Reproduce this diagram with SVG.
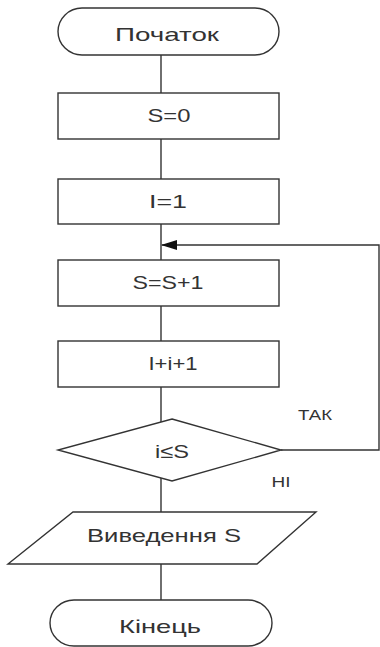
<svg xmlns="http://www.w3.org/2000/svg" width="380" height="647" viewBox="0 0 380 647">
  <style>
    .shape { fill: #ffffff; stroke: #333333; stroke-width: 1.4; }
    .edge { fill: none; stroke: #333333; stroke-width: 1.4; }
    .label { font-family: "Liberation Sans", Arial, sans-serif; font-size: 19px; fill: #333333; text-anchor: middle; }
    .small { font-family: "Liberation Sans", Arial, sans-serif; font-size: 14px; fill: #333333; text-anchor: middle; }
  </style>
  <defs>
    <marker id="arrow" markerWidth="16" markerHeight="10" refX="15" refY="5" orient="auto" markerUnits="userSpaceOnUse">
      <path d="M0,0 L16,5 L0,10 z" fill="#111111"/>
    </marker>
  </defs>
  <rect width="380" height="647" fill="#ffffff"/>

  <g id="connectors">
    <line class="edge" x1="161" y1="55" x2="161" y2="93"/>
    <line class="edge" x1="161" y1="139" x2="161" y2="179"/>
    <line class="edge" x1="161" y1="224" x2="161" y2="260"/>
    <line class="edge" x1="161" y1="306" x2="161" y2="341"/>
    <line class="edge" x1="161" y1="387" x2="161" y2="422"/>
    <line class="edge" x1="161" y1="478" x2="161" y2="512"/>
    <line class="edge" x1="161" y1="564" x2="161" y2="600"/>
    <polyline class="edge" points="281,450 379,450 379,245 162,245" marker-end="url(#arrow)"/>
    <text class="small" x="315" y="420" textLength="34" lengthAdjust="spacingAndGlyphs">ТАК</text>
    <text class="small" x="281" y="487" font-size="15" textLength="19" lengthAdjust="spacingAndGlyphs">НІ</text>
  </g>

  <g id="start">
    <rect class="shape" x="58" y="8" width="221" height="47" rx="24" ry="23.5"/>
    <text class="label" x="167" y="41" textLength="104" lengthAdjust="spacingAndGlyphs">Початок</text>
  </g>

  <g id="init-s">
    <rect class="shape" x="58" y="93" width="221" height="46"/>
    <text class="label" x="169" y="122" textLength="43" lengthAdjust="spacingAndGlyphs">S=0</text>
  </g>

  <g id="init-i">
    <rect class="shape" x="58" y="179" width="221" height="45"/>
    <text class="label" x="168" y="208" textLength="38" lengthAdjust="spacingAndGlyphs">I=1</text>
  </g>

  <g id="inc-s">
    <rect class="shape" x="58" y="260" width="221" height="46"/>
    <text class="label" x="168" y="289" textLength="71" lengthAdjust="spacingAndGlyphs">S=S+1</text>
  </g>

  <g id="inc-i">
    <rect class="shape" x="58" y="341" width="221" height="46"/>
    <text class="label" x="173" y="370" textLength="49" lengthAdjust="spacingAndGlyphs">I+i+1</text>
  </g>

  <g id="condition">
    <polygon class="shape" points="172,419 281,450 172,481 58,450"/>
    <text class="label" x="172" y="458" textLength="34" lengthAdjust="spacingAndGlyphs">i≤S</text>
  </g>

  <g id="output">
    <polygon class="shape" points="73,512 316,512 257,564 8,564"/>
    <text class="label" x="164" y="542" textLength="154" lengthAdjust="spacingAndGlyphs">Виведення S</text>
  </g>

  <g id="end">
    <rect class="shape" x="50" y="600" width="222" height="46" rx="24" ry="23"/>
    <text class="label" x="160" y="633" textLength="82" lengthAdjust="spacingAndGlyphs">Кінець</text>
  </g>
</svg>
